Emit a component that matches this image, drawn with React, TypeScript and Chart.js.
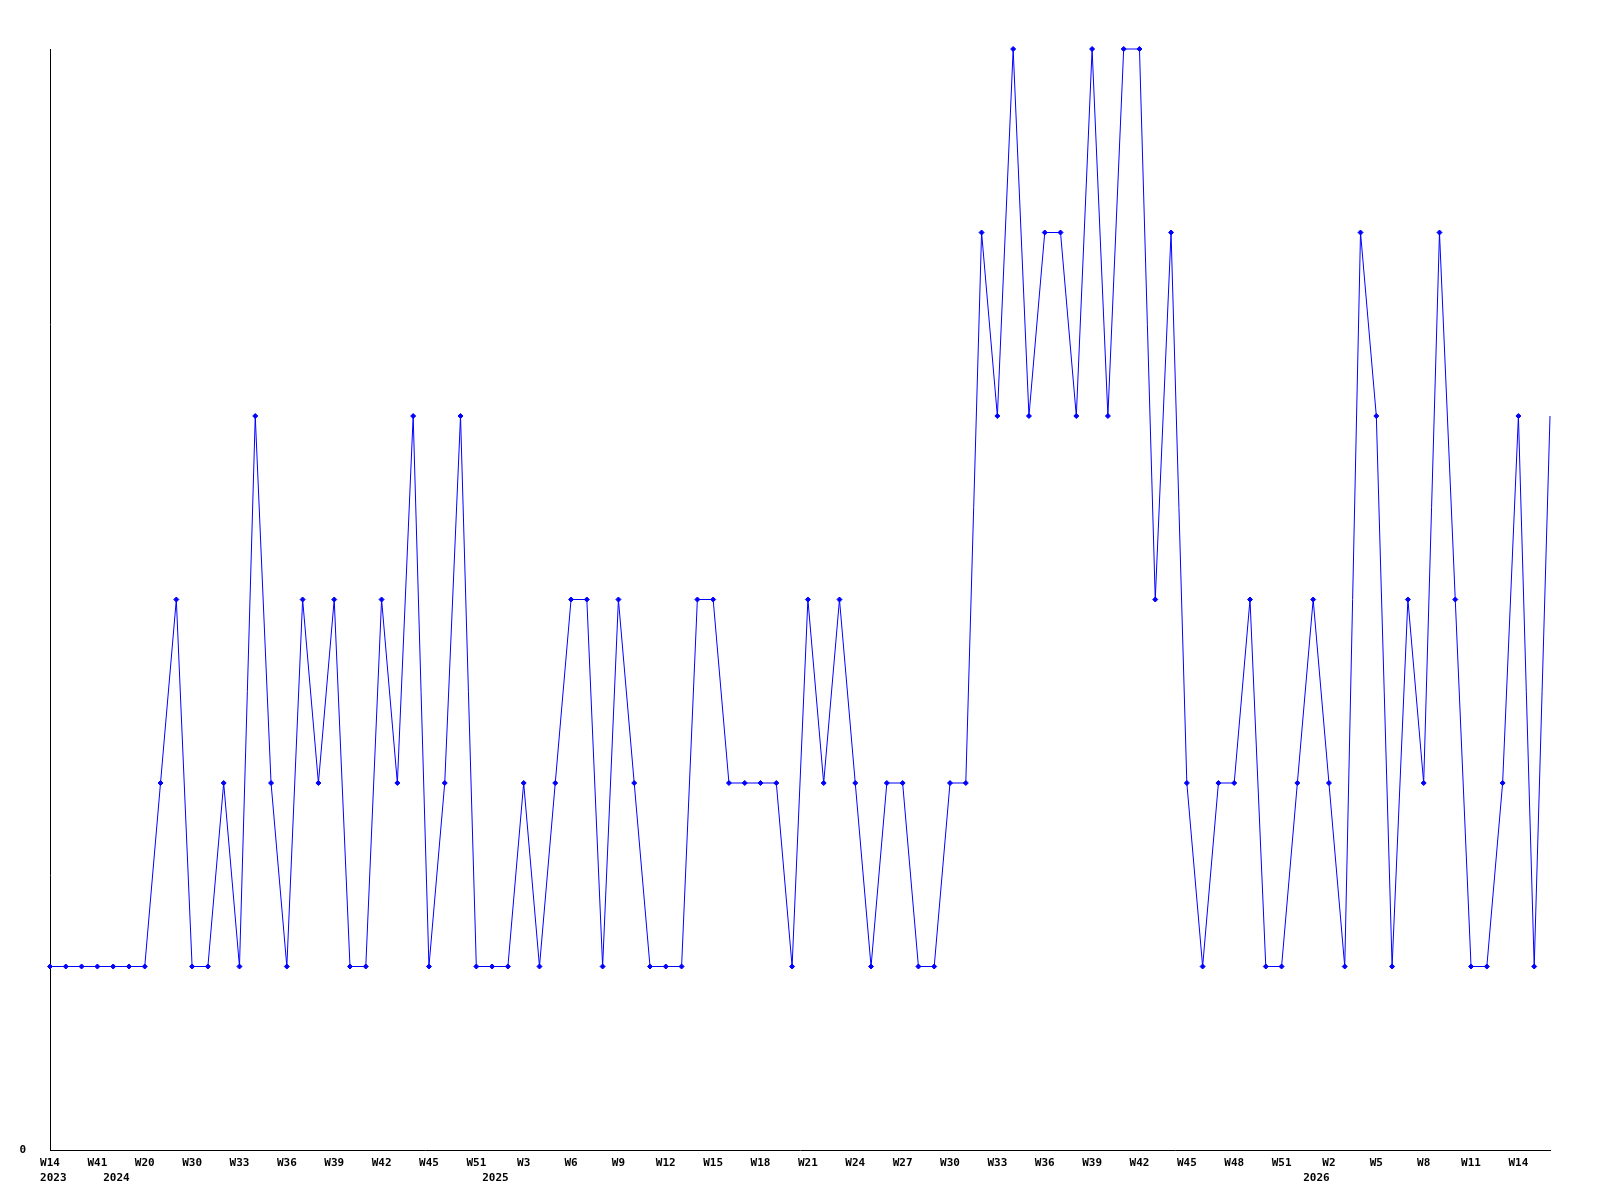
import React, { useEffect, useRef } from "react";
import { Chart, registerables } from "chart.js";

Chart.register(...registerables);

// Week of each data point (one point per reported week)
const weeks: string[] = [
  "W14", "W22", "W30", "W41",
  "W3", "W12", "W20", "W25", "W28", "W30", "W31", "W32", "W33", "W34", "W35", "W36",
  "W37", "W38", "W39", "W40", "W41", "W42", "W43", "W44", "W45", "W47", "W49", "W51",
  "W1", "W2", "W3", "W4", "W5", "W6", "W7", "W8", "W9", "W10", "W11", "W12", "W13",
  "W14", "W15", "W16", "W17", "W18", "W19", "W20", "W21", "W22", "W23", "W24", "W25",
  "W26", "W27", "W28", "W29", "W30", "W31", "W32", "W33", "W34", "W35", "W36", "W37",
  "W38", "W39", "W40", "W41", "W42", "W43", "W44", "W45", "W46", "W47", "W48", "W49",
  "W50", "W51", "W52",
  "W1", "W2", "W3", "W4", "W5", "W6", "W7", "W8", "W9", "W10", "W11", "W12", "W13",
  "W14", "W15", "W16",
];

// Year of each data point
const years: number[] = [
  2023, 2023, 2023, 2023,
  2024, 2024, 2024, 2024, 2024, 2024, 2024, 2024, 2024, 2024, 2024, 2024,
  2024, 2024, 2024, 2024, 2024, 2024, 2024, 2024, 2024, 2024, 2024, 2024,
  2025, 2025, 2025, 2025, 2025, 2025, 2025, 2025, 2025, 2025, 2025, 2025, 2025,
  2025, 2025, 2025, 2025, 2025, 2025, 2025, 2025, 2025, 2025, 2025, 2025,
  2025, 2025, 2025, 2025, 2025, 2025, 2025, 2025, 2025, 2025, 2025, 2025,
  2025, 2025, 2025, 2025, 2025, 2025, 2025, 2025, 2025, 2025, 2025, 2025,
  2025, 2025, 2025,
  2026, 2026, 2026, 2026, 2026, 2026, 2026, 2026, 2026, 2026, 2026, 2026, 2026,
  2026, 2026, 2026,
];

// Series values
const values: number[] = [
  1, 1, 1, 1, 1, 1, 1, 2, 3, 1,
  1, 2, 1, 4, 2, 1, 3, 2, 3, 1,
  1, 3, 2, 4, 1, 2, 4, 1, 1, 1,
  2, 1, 2, 3, 3, 1, 3, 2, 1, 1,
  1, 3, 3, 2, 2, 2, 2, 1, 3, 2,
  3, 2, 1, 2, 2, 1, 1, 2, 2, 5,
  4, 6, 4, 5, 5, 4, 6, 4, 6, 6,
  3, 5, 2, 1, 2, 2, 3, 1, 1, 2,
  3, 2, 1, 5, 4, 1, 3, 2, 5, 3,
  1, 1, 2, 4, 1, 4,
];

const yMin = 0;
const yMax = 6;
const yTickValues: number[] = [0];
const weekLabelEvery = 3;

export default function App() {
  const canvasRef = useRef<HTMLCanvasElement | null>(null);

  useEffect(() => {
    if (!canvasRef.current) return;
    const labels = weeks.map((w, i) => `${years[i]}-${w}`);
    const firstOfYear = years.map((y, i) => i === 0 || years[i - 1] !== y);
    const tickFont = { family: "'DejaVu Sans Mono', monospace", size: 11, weight: "bold" as const, lineHeight: 1.4 };

    const chart = new Chart(canvasRef.current, {
      type: "line",
      data: {
        labels,
        datasets: [
          {
            data: values,
            borderColor: "#0000ff",
            backgroundColor: "#0000ff",
            borderWidth: 1,
            pointStyle: "rectRot",
            pointRadius: values.map((_, i) => (i === values.length - 1 ? 0 : 2.5)),
            pointBorderWidth: 1,
            pointBorderColor: "#0000ff",
            pointBackgroundColor: "#0000ff",
            tension: 0,
            fill: false,
            clip: false,
          } as any,
        ],
      },
      options: {
        animation: false,
        responsive: true,
        maintainAspectRatio: false,
        layout: { padding: { top: 49, right: 50, left: 0, bottom: 0 } },
        plugins: {
          legend: { display: false },
          tooltip: { enabled: false },
          title: { display: false },
        },
        scales: {
          x: {
            type: "category",
            offset: false,
            grid: { display: false, drawTicks: false },
            border: { display: true, color: "#000000", width: 1 },
            afterFit: (scale: any) => {
              scale.height = 50;
            },
            ticks: {
              autoSkip: false,
              maxRotation: 0,
              minRotation: 0,
              padding: 5,
              color: "#000000",
              font: tickFont,
              callback: (_v: any, i: number) => {
                const w = i % weekLabelEvery === 0 ? weeks[i] : "";
                const y = firstOfYear[i] ? " " + String(years[i]) : null;
                if (!w && !y) return null;
                return y ? [w, y] : [w];
              },
            },
          },
          y: {
            min: yMin,
            max: yMax,
            grid: { display: false, drawTicks: false },
            border: { display: true, color: "#000000", width: 1 },
            afterFit: (scale: any) => {
              scale.width = 50;
            },
            afterBuildTicks: (scale: any) => {
              scale.ticks = yTickValues.map((v) => ({ value: v }));
            },
            ticks: {
              padding: 24,
              color: "#000000",
              font: tickFont,
              callback: (v: any) => String(v),
            },
          },
        },
      },
    });
    return () => chart.destroy();
  }, []);

  return (
    <div style={{ position: "absolute", left: 0, top: 0, width: 1600, height: 1200, background: "#ffffff" }}>
      <canvas ref={canvasRef} />
    </div>
  );
}
